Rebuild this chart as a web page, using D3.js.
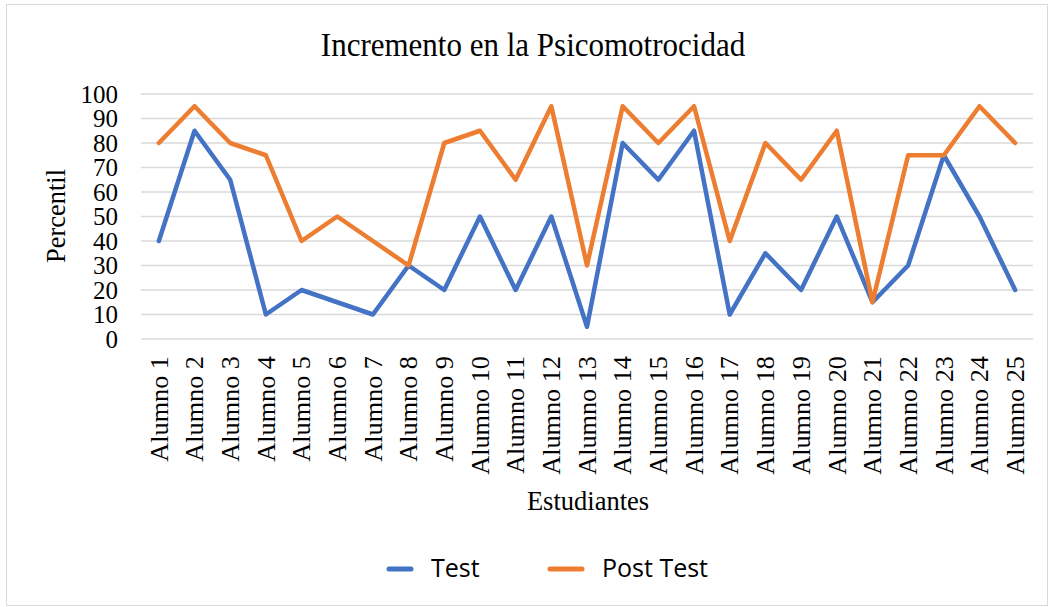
<!DOCTYPE html>
<html>
<head>
<meta charset="utf-8">
<script src="https://cdn.jsdelivr.net/npm/d3@7"></script>
<style>
  body { margin: 0; background: #fff; }
  svg { display: block; }
</style>
</head>
<body>
<script>
var width = 1051,
    height = 607;

var alumnos = d3.range(1, 26).map(function(i) { return "Alumno " + i; });
var testValues = [40, 85, 65, 10, 20, 15, 10, 30, 20, 50, 20, 50, 5, 80, 65, 85, 10, 35, 20, 50, 15, 30, 75, 50, 20];
var postTestValues = [80, 95, 80, 75, 40, 50, 40, 30, 80, 85, 65, 95, 30, 95, 80, 95, 40, 80, 65, 85, 15, 75, 75, 95, 80];
var yTicks = [0, 10, 20, 30, 40, 50, 60, 70, 80, 90, 100];

var series = [
    {name: "Test", values: testValues, color: "#4472C4"},
    {name: "Post Test", values: postTestValues, color: "#ED7D31"}
];

var margin = {left: 141, right: 18, top: 94, bottom: 268};
var serif = "'Liberation Serif', 'Times New Roman', serif";

var xScale = d3.scaleBand()
    .domain(alumnos)
    .range([margin.left, width - margin.right]);

var yScale = d3.scaleLinear()
    .domain([0, 100])
    .range([height - margin.bottom, margin.top]);

var svg = d3.select("body").append("svg")
    .attr("width", width)
    .attr("height", height);

// chart border
svg.append("rect")
    .attr("x", 6.5).attr("y", 4.5)
    .attr("width", width - 10).attr("height", height - 6)
    .attr("fill", "none")
    .attr("stroke", "#d9d9d9");

// title (the original is a bit stretched vertically)
svg.append("text")
    .attr("transform", "translate(533,56) scale(1,1.1)")
    .attr("text-anchor", "middle")
    .style("font-family", serif)
    .style("font-size", "31px")
    .text("Incremento en la Psicomotrocidad");

// gridlines
svg.append("g")
    .selectAll("line").data(yTicks).enter().append("line")
    .attr("x1", margin.left).attr("x2", width - margin.right)
    .attr("y1", function(d) { return yScale(d); })
    .attr("y2", function(d) { return yScale(d); })
    .attr("stroke", "#d9d9d9")
    .attr("stroke-width", 1.5);

// y axis
var yAxis = d3.axisLeft(yScale).tickValues(yTicks).tickSize(0).tickPadding(0);
var gy = svg.append("g")
    .attr("transform", "translate(" + (margin.left - 23) + ",0)")
    .call(yAxis);
gy.select(".domain").remove();
gy.selectAll("text")
    .style("font-family", serif)
    .style("font-size", "25px")
    .attr("fill", "#000");

// x axis
var xAxis = d3.axisBottom(xScale).tickSize(0).tickPadding(0);
var gx = svg.append("g")
    .attr("transform", "translate(0," + (height - margin.bottom + 17) + ")")
    .call(xAxis);
gx.select(".domain").remove();
gx.selectAll("text")
    .style("font-family", serif)
    .style("font-size", "25px")
    .attr("fill", "#000")
    .attr("text-anchor", "end")
    .attr("dy", "0.35em")
    .attr("y", 0)
    .attr("transform", "rotate(-90) scale(1.05,1)");

// axis titles
svg.append("text")
    .attr("transform", "translate(65,216) rotate(-90)")
    .attr("text-anchor", "middle")
    .style("font-family", serif)
    .style("font-size", "26.5px")
    .text("Percentil");

svg.append("text")
    .attr("x", 588).attr("y", 510)
    .attr("text-anchor", "middle")
    .style("font-family", serif)
    .style("font-size", "26.5px")
    .text("Estudiantes");

// lines
var line = d3.line()
    .x(function(d, i) { return xScale(alumnos[i]) + xScale.bandwidth() / 2; })
    .y(function(d) { return yScale(d); });

svg.selectAll("path.serie").data(series).enter().append("path")
    .attr("class", "serie")
    .attr("d", function(s) { return line(s.values); })
    .attr("fill", "none")
    .attr("stroke", function(s) { return s.color; })
    .attr("stroke-width", 4.5)
    .attr("stroke-linejoin", "round")
    .attr("stroke-linecap", "round");

// legend
var legendX = [389, 550];
var legend = svg.selectAll("g.legend").data(series).enter().append("g")
    .attr("class", "legend")
    .attr("transform", function(d, i) { return "translate(" + legendX[i] + ",569)"; });
legend.append("line")
    .attr("x1", 0).attr("x2", function(d, i) { return i == 0 ? 22 : 32; })
    .attr("stroke", function(d) { return d.color; })
    .attr("stroke-width", 5)
    .attr("stroke-linecap", "round");
legend.append("text")
    .attr("x", function(d, i) { return i == 0 ? 42 : 52; })
    .attr("dy", "0.33em")
    .style("font-family", "'Open Sans', sans-serif")
    .style("font-size", "25px")
    .text(function(d) { return d.name; });
</script>
</body>
</html>
